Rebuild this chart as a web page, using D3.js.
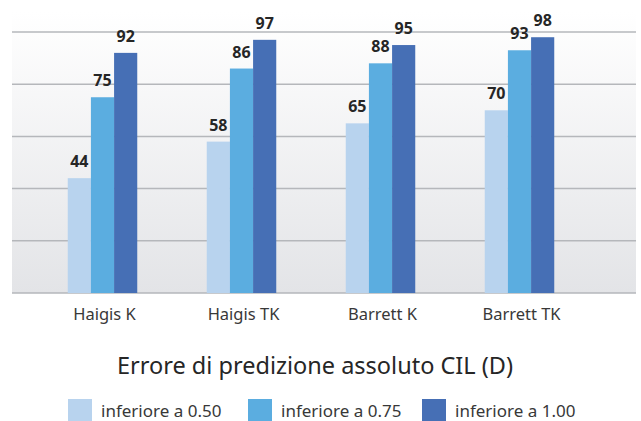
<!DOCTYPE html>
<html>
<head>
<meta charset="utf-8">
<script src="https://cdn.jsdelivr.net/npm/d3@7"></script>
<style>
  body { margin: 0; background: #fff; }
  text { font-family: "Noto Sans", sans-serif; }
</style>
</head>
<body>
<svg id="chart" width="641" height="421"></svg>
<script>
// categories and series
var formulas = ["Haigis K", "Haigis TK", "Barrett K", "Barrett TK"];
var seriesNames = ["inferiore a 0.50", "inferiore a 0.75", "inferiore a 1.00"];
var under050 = [44, 58, 65, 70];
var under075 = [75, 86, 88, 93];
var under100 = [92, 97, 95, 98];
var yTicks = [0, 20, 40, 60, 80, 100];
var colors = ["#b8d3ee", "#5badE0", "#466fb5"];
var title = "Errore di predizione assoluto CIL (D)";

var series = [under050, under075, under100];

var svg = d3.select("#chart");

var plotLeft = 12, plotRight = 636, plotTop = 12, plotBottom = 293;

var x = d3.scaleBand()
    .domain(formulas)
    .range([33, 589])
    .paddingInner(0.5)
    .paddingOuter(0.25);

var xs = d3.scaleBand()
    .domain(seriesNames)
    .range([0, x.bandwidth()]);

var y = d3.scaleLinear()
    .domain([0, 100])
    .range([293, 32]);

// background gradient
var defs = svg.append("defs");
var grad = defs.append("linearGradient")
    .attr("id", "bg")
    .attr("x1", 0).attr("y1", 0).attr("x2", 0).attr("y2", 1);
grad.append("stop").attr("offset", "0%").attr("stop-color", "#ffffff");
grad.append("stop").attr("offset", "100%").attr("stop-color", "#e3e4e7");

svg.append("rect")
    .attr("x", plotLeft)
    .attr("y", plotTop)
    .attr("width", plotRight - plotLeft)
    .attr("height", plotBottom - plotTop)
    .attr("fill", "url(#bg)");

// gridlines
svg.selectAll("line.grid")
    .data(yTicks)
    .enter().append("line")
    .attr("class", "grid")
    .attr("x1", plotLeft)
    .attr("x2", plotRight)
    .attr("y1", d => y(d))
    .attr("y2", d => y(d))
    .attr("stroke", "#b5b7bb")
    .attr("stroke-width", 1.5);

// bars
var groups = svg.selectAll("g.formula")
    .data(formulas)
    .enter().append("g")
    .attr("class", "formula")
    .attr("transform", d => "translate(" + x(d) + ",0)");

groups.selectAll("rect")
    .data((d, i) => series.map((s, j) => ({ name: seriesNames[j], value: s[i], j: j })))
    .enter().append("rect")
    .attr("x", d => xs(d.name))
    .attr("width", xs.bandwidth())
    .attr("y", d => y(d.value))
    .attr("height", d => y(0) - y(d.value))
    .attr("fill", d => colors[d.j]);

groups.selectAll("text.val")
    .data((d, i) => series.map((s, j) => ({ name: seriesNames[j], value: s[i] })))
    .enter().append("text")
    .attr("class", "val")
    .attr("x", d => xs(d.name) + xs.bandwidth() / 2)
    .attr("y", d => y(d.value) - 11)
    .attr("text-anchor", "middle")
    .attr("font-size", 16)
    .attr("font-weight", "bold")
    .attr("fill", "#262626")
    .text(d => d.value);

// x axis labels
svg.selectAll("text.cat")
    .data(formulas)
    .enter().append("text")
    .attr("class", "cat")
    .attr("x", d => x(d) + x.bandwidth() / 2 + 2)
    .attr("y", 320)
    .attr("text-anchor", "middle")
    .attr("font-size", 16.5)
    .attr("fill", "#383838")
    .text(d => d);

// title
svg.append("text")
    .attr("x", 315)
    .attr("y", 374)
    .attr("text-anchor", "middle")
    .attr("font-size", 23.5)
    .attr("fill", "#262626")
    .text(title);

// legend
var legendX = [68, 248, 422];
var legend = svg.selectAll("g.legend")
    .data(seriesNames)
    .enter().append("g")
    .attr("class", "legend")
    .attr("transform", (d, i) => "translate(" + legendX[i] + ",399)");

legend.append("rect")
    .attr("width", 24)
    .attr("height", 22)
    .attr("fill", (d, i) => colors[i]);

legend.append("text")
    .attr("x", 33)
    .attr("y", 18)
    .attr("font-size", 17)
    .attr("fill", "#383838")
    .text(d => d);
</script>
</body>
</html>
